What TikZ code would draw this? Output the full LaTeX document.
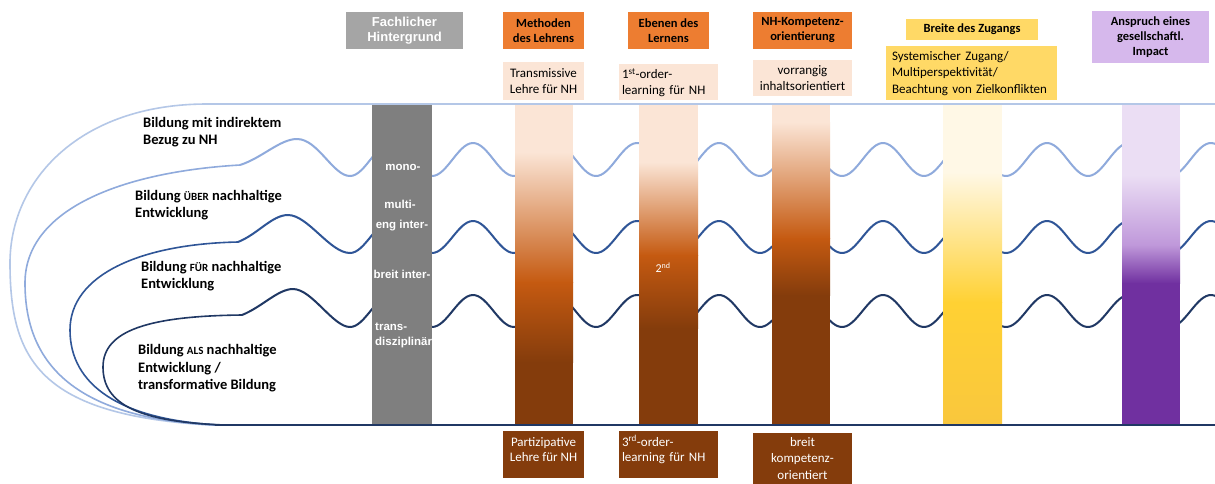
\documentclass[tikz,border=0pt]{standalone}
\usepackage{fontspec}
\setmainfont{Carlito}
\newfontfamily\arialf{Liberation Sans}
\definecolor{cOne}{HTML}{B4C7E7}
\definecolor{cTwo}{HTML}{8FAADC}
\definecolor{cThree}{HTML}{2F5597}
\definecolor{cFour}{HTML}{203864}
\definecolor{grayBar}{HTML}{7F7F7F}
\definecolor{grayHdr}{HTML}{A5A5A5}
\definecolor{orangeHdr}{HTML}{ED7D31}
\definecolor{peachL}{HTML}{FBE5D6}
\definecolor{orangeM}{HTML}{C55A11}
\definecolor{brownD}{HTML}{843C0C}
\definecolor{yellowHdr}{HTML}{FFD966}
\definecolor{creamL}{HTML}{FFF8E6}
\definecolor{goldM}{HTML}{FFD133}
\definecolor{goldB}{HTML}{F9C73D}
\definecolor{lilacHdr}{HTML}{D6B8EC}
\definecolor{lilacL}{HTML}{EBDEF4}
\definecolor{lilacM}{HTML}{BF98DA}
\definecolor{purpleD}{HTML}{7030A0}
\newcommand\mybarseg[6]{\shade[top color=#5,bottom color=#6] (#1,#3) rectangle (#2,#4);}
\newcommand\smcp[1]{{\fontsize{11}{17.5}\selectfont #1}}
\begin{document}
\begin{tikzpicture}[x=1pt,y=-1pt,
  curve/.style={line width=1.6pt},
  wave/.style={line width=2pt},
  hdrbox/.style={inner sep=0pt, align=center, font=\fontsize{12.5}{15}\selectfont\bfseries},
  infobox/.style={inner sep=0pt, align=center, font=\fontsize{13}{16}\selectfont},
  lefttxt/.style={inner sep=0pt, anchor=west, align=left, font=\fontsize{14.5}{17.5}\selectfont\bfseries},
  bartxt/.style={inner sep=0pt, text=white, font=\arialf\fontsize{11.5}{14}\selectfont\bfseries}
]
\useasboundingbox (0,0) rectangle (1215,483);
\fill[white] (0,0) rectangle (1215,483);

% nested curves
\draw[curve, cOne] (1215,104) -- (207,104) .. controls (80,104) and (10,180) .. (10,263)
  .. controls (10,360) and (40,415) .. (210,425);
\draw[curve, cTwo] (240,165) .. controls (120,172) and (25,210) .. (25,283)
  .. controls (25,360) and (70,418) .. (215,425);
\draw[curve, cThree] (238,242) .. controls (140,244) and (70,275) .. (70,330)
  .. controls (70,385) and (120,420) .. (220,425);
\draw[curve, cFour] (242,315) .. controls (150,316) and (103,330) .. (103,367)
  .. controls (103,405) and (140,422) .. (225,425);

% waves
\draw[wave, cTwo] (240,165) .. controls (262,158) and (280,139) .. (297,139)
  .. controls (318,139) and (333,176) .. (350,176);
\draw[wave, cTwo] plot[domain=350:1220, samples=320, smooth] ({\x},{159.5+16.5*cos(((\x-350)/82)*360)});
\draw[wave, cThree] (238,242) .. controls (258,234) and (272,215) .. (288,215)
  .. controls (308,215) and (330,253) .. (350,253);
\draw[wave, cThree] plot[domain=350:1220, samples=320, smooth] ({\x},{237+16*cos(((\x-350)/82)*360)});
\draw[wave, cFour] (242,315) .. controls (262,307) and (278,289) .. (293,289)
  .. controls (312,289) and (333,327) .. (350,327);
\draw[wave, cFour] plot[domain=350:1220, samples=320, smooth] ({\x},{311+16*cos(((\x-350)/82)*360)});

% bars
\fill[grayBar] (372,105) rectangle (432,425);

\fill[peachL] (515,105) rectangle (573,152.5);
\mybarseg{515}{573}{152}{282.5}{peachL}{orangeM}
\mybarseg{515}{573}{282}{362.5}{orangeM}{brownD}
\fill[brownD] (515,362) rectangle (573,425);

\fill[peachL] (639,105) rectangle (698,162.5);
\mybarseg{639}{698}{162}{255.5}{peachL}{orangeM}
\mybarseg{639}{698}{255}{328.5}{orangeM}{brownD}
\fill[brownD] (639,328) rectangle (698,425);

\fill[peachL] (772,105) rectangle (830,122.5);
\mybarseg{772}{830}{122}{238.5}{peachL}{orangeM}
\mybarseg{772}{830}{238}{295.5}{orangeM}{brownD}
\fill[brownD] (772,295) rectangle (830,425);

\fill[creamL] (943,105) rectangle (1002,172.5);
\mybarseg{943}{1002}{172}{302.5}{creamL}{goldM}
\mybarseg{943}{1002}{302}{425}{goldM}{goldB}

\fill[lilacL] (1122,105) rectangle (1180,175.5);
\mybarseg{1122}{1180}{175}{245.5}{lilacL}{lilacM}
\mybarseg{1122}{1180}{245}{283.5}{lilacM}{purpleD}
\fill[purpleD] (1122,283) rectangle (1180,425);

% frame lines
\draw[line width=2.6pt, cOne] (207,104) -- (1215,104);
\draw[line width=2.6pt, cFour] (215,425) -- (1215,425);

% texts on gray bar
\node[bartxt] (mono) at (403,167) {mono-};
\node[bartxt] (multi) at (400,204) {multi-};
\node[bartxt] (eng) at (402,226) {eng inter-};
\node[bartxt] (breitI) at (402,274) {breit inter-};
\node[bartxt, anchor=west, align=left, font=\arialf\fontsize{11.5}{15}\selectfont\bfseries] (trans) at (375,335) {trans-\\disziplinär};
\node[inner sep=0pt, text=white, font=\fontsize{12}{14}\selectfont] (second) at (663,268) {2\textsuperscript{nd}};

% left texts
\node[lefttxt] (tOne) at (143,132) {Bildung mit indirektem\\Bezug zu NH};
\node[lefttxt] (tTwo) at (135,205) {Bildung \smcp{ÜBER} nachhaltige\\Entwicklung};
\node[lefttxt] (tThree) at (141,276) {Bildung \smcp{FÜR} nachhaltige\\Entwicklung};
\node[lefttxt] (tFour) at (138,368.5) {Bildung \smcp{ALS} nachhaltige\\Entwicklung /\\transformative Bildung};

% headers
\node[hdrbox, fill=grayHdr, text=white, minimum width=117pt, minimum height=37pt,
  font=\arialf\fontsize{13}{15}\selectfont\bfseries] (fach) at (404.5,30.5) {Fachlicher\\Hintergrund};
\node[hdrbox, fill=orangeHdr, minimum width=81pt, minimum height=37pt] (meth) at (543.5,30.5) {Methoden\\des Lehrens};
\node[hdrbox, fill=orangeHdr, minimum width=81pt, minimum height=37pt] (eben) at (668.5,30.5) {Ebenen des\\Lernens};
\node[hdrbox, fill=orangeHdr, minimum width=99pt, minimum height=37pt] (nhk) at (802.5,30.5) {NH-Kompetenz-\\orientierung};
\node[hdrbox, fill=yellowHdr, minimum width=132pt, minimum height=21pt] (breite) at (972,29.5) {Breite des Zugangs};
\node[hdrbox, fill=lilacHdr, minimum width=117pt, minimum height=52pt] (ansp) at (1150.5,37) {Anspruch eines\\gesellschaftl.\\Impact};

% info boxes (top)
\node[infobox, fill=peachL, minimum width=81pt, minimum height=38pt] (transm) at (543.5,81) {Transmissive\\Lehre für NH};
\node[fill=peachL, inner sep=0pt, minimum width=99pt, minimum height=36pt] (firstB) at (668.5,82) {};
\node[infobox, align=left, text width=93pt] (firstT) at (668.5,82.5) {1\textsuperscript{st}-order-\\learning für NH};
\node[infobox, fill=peachL, minimum width=99pt, minimum height=36pt] (vorr) at (802.5,78) {vorrangig\\inhaltsorientiert};
\node[fill=yellowHdr, inner sep=0pt, minimum width=171pt, minimum height=54pt] (systB) at (971.5,73) {};
\node[infobox, align=left, text width=159pt, font=\fontsize{13}{16.5}\selectfont] (systT) at (971.5,73.5) {Systemischer Zugang/\\Multiperspektivität/\\Beachtung von Zielkonflikten};

% info boxes (bottom)
\node[fill=brownD, inner sep=0pt, minimum width=81pt, minimum height=47pt] (partB) at (543.5,454.5) {};
\node[infobox, text=white, font=\fontsize{13}{15}\selectfont] (partT) at (543.5,449.5) {Partizipative\\Lehre für NH};
\node[fill=brownD, inner sep=0pt, minimum width=99pt, minimum height=47pt] (thirdB) at (668.5,454.5) {};
\node[infobox, text=white, align=left, text width=93pt, font=\fontsize{13}{15}\selectfont] (thirdT) at (668.5,449.5) {3\textsuperscript{rd}-order-\\learning für NH};
\node[fill=brownD, inner sep=0pt, minimum width=99pt, minimum height=70pt] (kompB) at (802.5,468) {};
\node[infobox, text=white, font=\fontsize{13}{16.5}\selectfont] (kompT) at (802.5,458.5) {breit\\kompetenz-\\orientiert};
\end{tikzpicture}
\end{document}
